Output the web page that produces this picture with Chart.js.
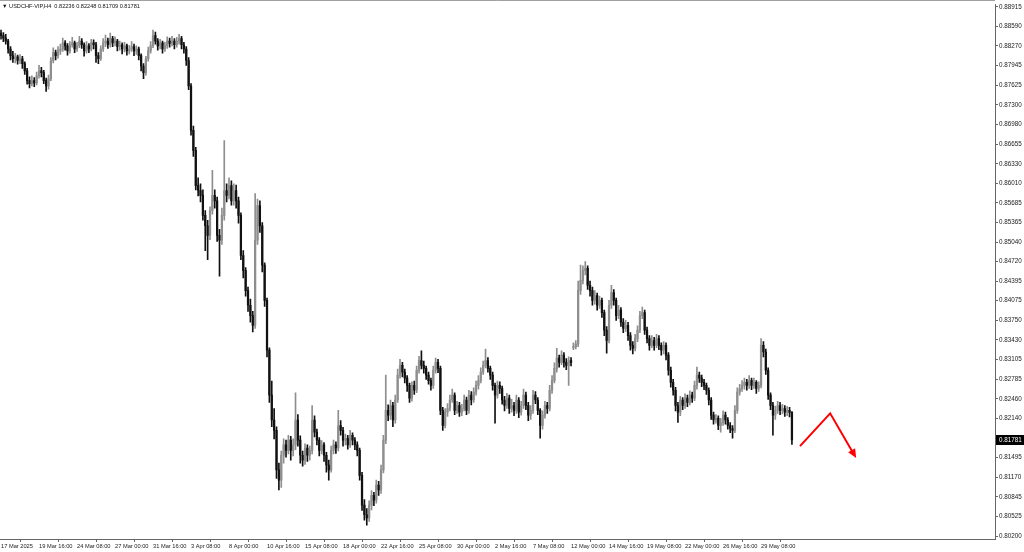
<!DOCTYPE html>
<html>
<head>
<meta charset="utf-8">
<script src="https://cdn.jsdelivr.net/npm/chart.js@4/dist/chart.umd.min.js"></script>
<style>
html, body { margin: 0; padding: 0; background: #fff; }
#wrap { position: relative; width: 1024px; height: 552px; }
#title { position: absolute; left: 2px; top: 3px; font: 5.6px "Liberation Sans", Arial, sans-serif; color: #111; white-space: pre; }
</style>
</head>
<body>
<div id="wrap">
  <canvas id="chart"></canvas>
  <div id="title">▼ USDCHF-VIP,H4  0.82236 0.82248 0.81709 0.81781</div>
</div>
<script>
// USDCHF H4 bars, 17 Mar 2025 -> 2 Jun 2025
const opens = [
  .8848,.8844,.8840,.8835,.8822,.8811,.8806,.8809,.8803,.8806,
  .8798,.8786,.8770,.8765,.8770,.8766,.8778,.8786,.8783,.8770,
  .8761,.8773,.8803,.8816,.8811,.8819,.8822,.8832,.8827,.8819,
  .8829,.8832,.8822,.8827,.8835,.8829,.8819,.8827,.8822,.8832,
  .8829,.8811,.8806,.8822,.8832,.8835,.8829,.8839,.8832,.8835,
  .8826,.8829,.8822,.8827,.8819,.8822,.8826,.8819,.8822,.8811,
  .8794,.8783,.8806,.8819,.8827,.8844,.8835,.8827,.8832,.8822,
  .8827,.8835,.8831,.8835,.8829,.8835,.8839,.8829,.8822,.8803,
  .8761,.8688,.8655,.8597,.8589,.8581,.8548,.8531,.8515,.8556,
  .8581,.8572,.8515,.8507,.8548,.8589,.8581,.8597,.8572,.8589,
  .8572,.8548,.8482,.8457,.8424,.8400,.8383,.8367,.8507,.8564,
  .8531,.8466,.8408,.8326,.8252,.8211,.8194,.8129,.8112,.8153,
  .8170,.8161,.8178,.8161,.8170,.8211,.8178,.8153,.8145,.8165,
  .8153,.8161,.8211,.8191,.8178,.8161,.8170,.8153,.8137,.8129,
  .8161,.8170,.8165,.8202,.8194,.8178,.8181,.8170,.8186,.8178,
  .8170,.8161,.8120,.8071,.8055,.8050,.8071,.8087,.8079,.8104,
  .8096,.8129,.8178,.8227,.8219,.8235,.8211,.8244,.8285,.8301,
  .8290,.8280,.8268,.8247,.8268,.8260,.8293,.8309,.8301,.8296,
  .8285,.8276,.8268,.8293,.8306,.8296,.8227,.8202,.8224,.8230,
  .8244,.8252,.8227,.8235,.8224,.8230,.8244,.8227,.8252,.8244,
  .8257,.8268,.8276,.8290,.8301,.8309,.8296,.8285,.8268,.8252,
  .8268,.8263,.8244,.8235,.8247,.8230,.8235,.8227,.8244,.8224,
  .8235,.8252,.8235,.8219,.8227,.8252,.8244,.8227,.8202,.8219,
  .8235,.8230,.8260,.8276,.8296,.8313,.8306,.8318,.8306,.8301,
  .8309,.8330,.8332,.8336,.8424,.8441,.8457,.8461,.8433,.8424,
  .8408,.8416,.8400,.8408,.8388,.8359,.8342,.8400,.8421,.8408,
  .8383,.8392,.8372,.8362,.8367,.8350,.8334,.8329,.8345,.8359,
  .8383,.8388,.8359,.8345,.8334,.8342,.8334,.8345,.8334,.8326,
  .8334,.8318,.8293,.8273,.8260,.8235,.8224,.8244,.8235,.8247,
  .8240,.8252,.8247,.8268,.8285,.8280,.8273,.8268,.8260,.8244,
  .8219,.8211,.8214,.8202,.8207,.8219,.8211,.8202,.8197,.8194,
  .8227,.8257,.8263,.8268,.8273,.8268,.8276,.8268,.8273,.8263,
  .8268,.8334,.8323,.8293,.8252,.8235,.8219,.8227,.8235,.8227,
  .8230,.8224,.8227,.82236
];
const highs = [
  .8853,.8849,.8846,.8838,.8826,.8818,.8815,.8812,.8813,.8810,
  .8801,.8790,.8776,.8778,.8775,.8784,.8795,.8792,.8787,.8774,
  .8779,.8808,.8824,.8820,.8826,.8830,.8840,.8836,.8831,.8834,
  .8841,.8835,.8833,.8843,.8839,.8832,.8834,.8831,.8838,.8837,
  .8833,.8816,.8827,.8839,.8845,.8840,.8848,.8843,.8842,.8838,
  .8835,.8832,.8833,.8830,.8828,.8834,.8830,.8827,.8825,.8814,
  .8798,.8810,.8825,.8834,.8853,.8850,.8839,.8838,.8835,.8833,
  .8842,.8840,.8843,.8839,.8841,.8846,.8843,.8833,.8826,.8808,
  .8765,.8695,.8660,.8610,.8600,.8590,.8556,.8540,.8562,.8622,
  .8590,.8578,.8525,.8560,.8671,.8600,.8610,.8605,.8600,.8598,
  .8578,.8552,.8490,.8462,.8430,.8410,.8390,.8584,.8575,.8572,
  .8536,.8470,.8412,.8330,.8275,.8230,.8200,.8140,.8160,.8180,
  .8178,.8186,.8184,.8180,.8256,.8220,.8185,.8160,.8172,.8170,
  .8168,.8235,.8218,.8196,.8182,.8177,.8174,.8158,.8145,.8168,
  .8178,.8175,.8227,.8210,.8199,.8188,.8186,.8194,.8190,.8182,
  .8175,.8165,.8125,.8080,.8065,.8078,.8095,.8092,.8112,.8110,
  .8137,.8186,.8285,.8236,.8244,.8240,.8252,.8295,.8311,.8306,
  .8295,.8284,.8272,.8274,.8275,.8300,.8316,.8325,.8308,.8300,
  .8290,.8280,.8300,.8313,.8311,.8300,.8232,.8230,.8238,.8252,
  .8262,.8256,.8242,.8240,.8237,.8252,.8249,.8260,.8258,.8264,
  .8275,.8284,.8297,.8308,.8328,.8314,.8300,.8290,.8272,.8275,
  .8274,.8267,.8250,.8255,.8252,.8245,.8240,.8252,.8248,.8242,
  .8262,.8257,.8240,.8235,.8260,.8258,.8248,.8230,.8226,.8242,
  .8240,.8268,.8284,.8305,.8329,.8318,.8325,.8322,.8312,.8315,
  .8314,.8338,.8342,.8440,.8466,.8465,.8472,.8465,.8440,.8430,
  .8424,.8420,.8415,.8412,.8392,.8365,.8408,.8433,.8426,.8412,
  .8400,.8396,.8378,.8375,.8372,.8355,.8340,.8352,.8366,.8390,
  .8397,.8392,.8364,.8350,.8350,.8347,.8352,.8350,.8338,.8340,
  .8338,.8322,.8298,.8278,.8265,.8240,.8250,.8248,.8254,.8252,
  .8259,.8257,.8275,.8298,.8290,.8285,.8278,.8272,.8264,.8248,
  .8224,.8220,.8218,.8214,.8226,.8224,.8215,.8207,.8202,.8235,
  .8264,.8270,.8276,.8280,.8278,.8284,.8280,.8280,.8276,.8274,
  .8345,.8340,.8328,.8297,.8256,.8240,.8234,.8242,.8240,.8237,
  .8235,.8233,.8232,.82248
];
const lows = [
  .8838,.8834,.8830,.8815,.8804,.8800,.8799,.8797,.8798,.8790,
  .8780,.8764,.8758,.8761,.8760,.8763,.8774,.8776,.8765,.8752,
  .8756,.8770,.8799,.8804,.8807,.8813,.8818,.8820,.8812,.8815,
  .8825,.8816,.8818,.8824,.8823,.8810,.8815,.8816,.8819,.8822,
  .8800,.8798,.8803,.8818,.8826,.8823,.8825,.8826,.8827,.8819,
  .8820,.8814,.8817,.8812,.8814,.8818,.8811,.8813,.8804,.8786,
  .8773,.8779,.8802,.8815,.8824,.8830,.8820,.8822,.8815,.8818,
  .8823,.8825,.8827,.8822,.8825,.8830,.8822,.8815,.8795,.8755,
  .8680,.8645,.8590,.8580,.8570,.8540,.8490,.8475,.8508,.8550,
  .8560,.8505,.8448,.8500,.8540,.8570,.8575,.8565,.8565,.8560,
  .8535,.8475,.8445,.8415,.8390,.8372,.8356,.8362,.8500,.8520,
  .8455,.8398,.8315,.8240,.8200,.8180,.8115,.8096,.8100,.8140,
  .8150,.8155,.8145,.8152,.8162,.8168,.8140,.8135,.8138,.8143,
  .8145,.8155,.8183,.8170,.8152,.8155,.8143,.8125,.8112,.8125,
  .8155,.8156,.8160,.8186,.8168,.8170,.8163,.8166,.8170,.8162,
  .8152,.8112,.8062,.8046,.8038,.8044,.8063,.8070,.8074,.8087,
  .8090,.8124,.8172,.8210,.8212,.8200,.8206,.8240,.8280,.8282,
  .8272,.8258,.8240,.8242,.8253,.8256,.8288,.8295,.8288,.8278,
  .8270,.8260,.8263,.8288,.8289,.8220,.8194,.8198,.8217,.8226,
  .8240,.8220,.8222,.8217,.8218,.8226,.8220,.8222,.8236,.8240,
  .8252,.8262,.8272,.8286,.8297,.8290,.8278,.8260,.8206,.8247,
  .8255,.8237,.8226,.8230,.8222,.8224,.8218,.8222,.8215,.8219,
  .8230,.8228,.8210,.8212,.8222,.8238,.8220,.8181,.8196,.8214,
  .8222,.8226,.8255,.8272,.8290,.8298,.8302,.8298,.8294,.8268,
  .8300,.8327,.8328,.8332,.8418,.8435,.8450,.8426,.8415,.8400,
  .8402,.8392,.8395,.8380,.8350,.8321,.8338,.8395,.8400,.8375,
  .8378,.8365,.8355,.8357,.8342,.8326,.8320,.8325,.8340,.8355,
  .8378,.8352,.8338,.8326,.8330,.8326,.8330,.8327,.8318,.8320,
  .8310,.8285,.8265,.8252,.8226,.8207,.8218,.8228,.8230,.8233,
  .8236,.8240,.8243,.8262,.8273,.8266,.8261,.8253,.8236,.8212,
  .8204,.8206,.8195,.8191,.8202,.8204,.8196,.8190,.8181,.8190,
  .8222,.8252,.8258,.8262,.8260,.8263,.8261,.8263,.8255,.8258,
  .8264,.8315,.8286,.8245,.8228,.8186,.8212,.8222,.8220,.8221,
  .8217,.8218,.8216,.81709
];
const closes = [
  .8844,.8840,.8835,.8822,.8811,.8806,.8809,.8803,.8806,.8798,
  .8786,.8770,.8765,.8770,.8766,.8778,.8786,.8783,.8770,.8761,
  .8773,.8803,.8816,.8811,.8819,.8822,.8832,.8827,.8819,.8829,
  .8832,.8822,.8827,.8835,.8829,.8819,.8827,.8822,.8832,.8829,
  .8811,.8806,.8822,.8832,.8835,.8829,.8839,.8832,.8835,.8826,
  .8829,.8822,.8827,.8819,.8822,.8826,.8819,.8822,.8811,.8794,
  .8783,.8806,.8819,.8827,.8844,.8835,.8827,.8832,.8822,.8827,
  .8835,.8831,.8835,.8829,.8835,.8839,.8829,.8822,.8803,.8761,
  .8688,.8655,.8597,.8589,.8581,.8548,.8531,.8515,.8556,.8581,
  .8572,.8515,.8507,.8548,.8589,.8581,.8597,.8572,.8589,.8572,
  .8548,.8482,.8457,.8424,.8400,.8383,.8367,.8507,.8564,.8531,
  .8466,.8408,.8326,.8252,.8211,.8194,.8129,.8112,.8153,.8170,
  .8161,.8178,.8161,.8170,.8211,.8178,.8153,.8145,.8165,.8153,
  .8161,.8211,.8191,.8178,.8161,.8170,.8153,.8137,.8129,.8161,
  .8170,.8165,.8202,.8194,.8178,.8181,.8170,.8186,.8178,.8170,
  .8161,.8120,.8071,.8055,.8050,.8071,.8087,.8079,.8104,.8096,
  .8129,.8178,.8227,.8219,.8235,.8211,.8244,.8285,.8301,.8290,
  .8280,.8268,.8247,.8268,.8260,.8293,.8309,.8301,.8296,.8285,
  .8276,.8268,.8293,.8306,.8296,.8227,.8202,.8224,.8230,.8244,
  .8252,.8227,.8235,.8224,.8230,.8244,.8227,.8252,.8244,.8257,
  .8268,.8276,.8290,.8301,.8309,.8296,.8285,.8268,.8252,.8268,
  .8263,.8244,.8235,.8247,.8230,.8235,.8227,.8244,.8224,.8235,
  .8252,.8235,.8219,.8227,.8252,.8244,.8227,.8202,.8219,.8235,
  .8230,.8260,.8276,.8296,.8313,.8306,.8318,.8306,.8301,.8309,
  .8306,.8332,.8336,.8424,.8441,.8457,.8461,.8433,.8424,.8408,
  .8416,.8400,.8408,.8388,.8359,.8342,.8400,.8421,.8408,.8383,
  .8392,.8372,.8362,.8367,.8350,.8334,.8329,.8345,.8359,.8383,
  .8388,.8359,.8345,.8334,.8342,.8334,.8345,.8334,.8326,.8334,
  .8318,.8293,.8273,.8260,.8235,.8224,.8244,.8235,.8247,.8240,
  .8252,.8247,.8268,.8285,.8280,.8273,.8268,.8260,.8244,.8219,
  .8211,.8214,.8202,.8207,.8219,.8211,.8202,.8197,.8194,.8227,
  .8257,.8263,.8268,.8273,.8268,.8276,.8268,.8273,.8263,.8268,
  .8334,.8323,.8293,.8252,.8235,.8219,.8227,.8235,.8227,.8230,
  .8224,.8227,.82236,.81781
];

// one time label every 16 bars
const dateTicks = ["17 Mar 2025", "19 Mar 16:00", "24 Mar 08:00", "27 Mar 00:00", "31 Mar 16:00",
    "3 Apr 08:00", "8 Apr 00:00", "10 Apr 16:00", "15 Apr 08:00", "18 Apr 00:00", "22 Apr 16:00",
    "25 Apr 08:00", "30 Apr 00:00", "2 May 16:00", "7 May 08:00", "12 May 00:00", "14 May 16:00",
    "19 May 08:00", "22 May 00:00", "26 May 16:00", "29 May 08:00"];
const priceTicks = [0.88915, 0.88590, 0.88270, 0.87945, 0.87625, 0.87300, 0.86980, 0.86655, 0.86330,
    0.86010, 0.85685, 0.85365, 0.85040, 0.84720, 0.84395, 0.84075, 0.83750, 0.83430, 0.83105,
    0.82785, 0.82460, 0.82140, 0.81495, 0.81170, 0.80845, 0.80525, 0.80200];

// red forecast arrow (bar index, price)
const arrowX = [336.4, 349.1, 359.2];
const arrowY = [0.8168, 0.8222, 0.8154];

const chart = document.getElementById("chart");
const yFont = { family: "'Liberation Sans', Arial, sans-serif", size: 6.3 };
const xFont = { family: "'Liberation Sans', Arial, sans-serif", size: 5.7 };
const upColor = "#8e8e8e", downColor = "#111111";
const barColors = closes.map((c, i) => c < opens[i] ? downColor : upColor);

const overlay = {
    id: "overlay",
    afterDatasetsDraw(c) {
        // arrow head on the last segment
        const pts = c.getDatasetMeta(2).data;
        const a = pts[pts.length - 2], b = pts[pts.length - 1];
        const ang = Math.atan2(b.y - a.y, b.x - a.x);
        const ctx = c.ctx;
        ctx.save();
        ctx.fillStyle = "#ff0000";
        ctx.translate(b.x, b.y);
        ctx.rotate(ang);
        ctx.beginPath();
        ctx.moveTo(4, 0);
        ctx.lineTo(-5, -4);
        ctx.lineTo(-5, 4);
        ctx.closePath();
        ctx.fill();
        ctx.restore();
    },
    afterDraw(c) {
        const ctx = c.ctx, area = c.chartArea;
        ctx.save();
        ctx.strokeStyle = "#a0a0a0";
        ctx.lineWidth = 1;
        ctx.beginPath();
        ctx.moveTo(0, 0.5);
        ctx.lineTo(area.right, 0.5);
        ctx.stroke();
        // current price box on the right axis
        const y = c.scales.y.getPixelForValue(closes[closes.length - 1]);
        ctx.fillStyle = "#000";
        ctx.fillRect(area.right + 1, Math.round(y) - 5, 28, 10);
        ctx.fillStyle = "#fff";
        ctx.font = "6.3px 'Liberation Sans', Arial, sans-serif";
        ctx.textBaseline = "middle";
        ctx.fillText(closes[closes.length - 1].toFixed(5), area.right + 4, Math.round(y));
        ctx.restore();
    }
};

new Chart(chart, {
    data: {
        datasets: [{
            type: "bar",
            order: 3,
            grouped: false,
            barThickness: 1,
            data: lows.map((l, i) => ({ x: i, y: [l, highs[i]] })),
            backgroundColor: barColors,
        }, {
            type: "bar",
            order: 2,
            grouped: false,
            barThickness: 1.6,
            data: opens.map((o, i) => ({ x: i, y: [o, closes[i]] })),
            backgroundColor: barColors,
        }, {
            type: "line",
            order: 1,
            data: arrowX.map((x, i) => ({ x: x, y: arrowY[i] })),
            borderColor: "#ff0000",
            borderWidth: 2,
            pointRadius: 0,
            tension: 0,
        }]
    },
    options: {
        responsive: true,
        maintainAspectRatio: false,
        animation: false,
        layout: { padding: 0 },
        plugins: {
            legend: { display: false },
            tooltip: { enabled: false }
        },
        scales: {
            x: {
                type: "linear",
                min: -0.4,
                max: 418.5,
                offset: false,
                grid: { drawOnChartArea: false, tickLength: 3, color: "#666" },
                border: { color: "#666" },
                ticks: {
                    autoSkip: false,
                    maxRotation: 0,
                    align: "start",
                    padding: 1,
                    color: "#222",
                    font: xFont,
                    callback: (v, i) => dateTicks[i]
                },
                afterBuildTicks: s => { s.ticks = dateTicks.map((t, i) => ({ value: i * 16 })); },
                afterFit: s => { s.height = 13; }
            },
            y: {
                position: "right",
                min: 0.80151,
                max: 0.88948,
                grid: { drawOnChartArea: false, tickLength: 3, color: "#666" },
                border: { color: "#666" },
                ticks: {
                    padding: 1,
                    color: "#222",
                    font: yFont,
                    callback: v => v.toFixed(5)
                },
                afterBuildTicks: s => { s.ticks = priceTicks.map(v => ({ value: v })); },
                afterFit: s => { s.width = 29; }
            }
        }
    },
    plugins: [overlay]
});
</script>
</body>
</html>
